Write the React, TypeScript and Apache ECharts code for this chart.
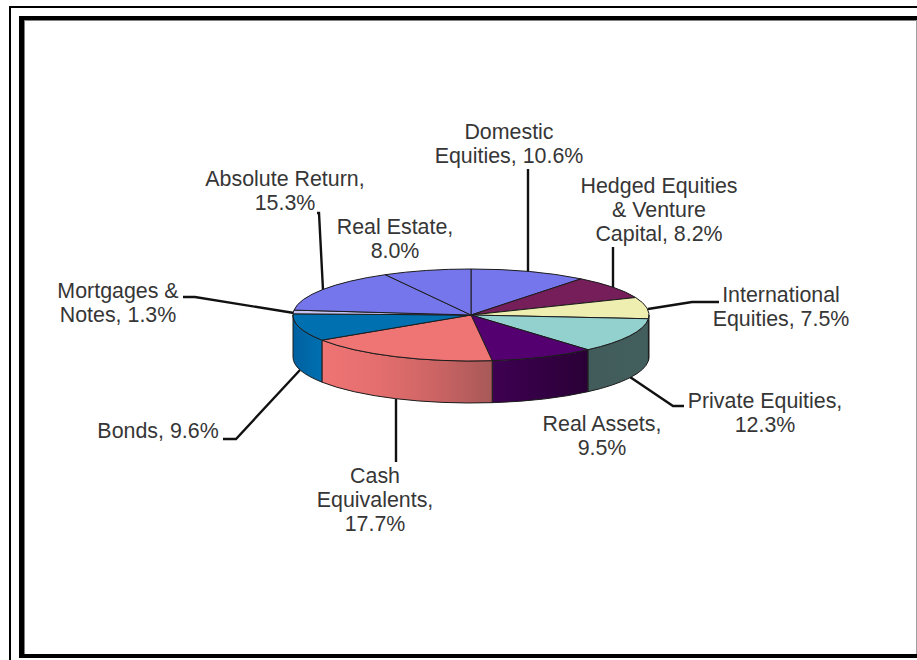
import React, { useEffect, useRef } from "react";
import * as echarts from "echarts";

const categories = ["Domestic Equities", "Hedged Equities & Venture Capital", "International Equities", "Private Equities", "Real Assets", "Cash Equivalents", "Bonds", "Mortgages & Notes", "Absolute Return", "Real Estate"];
const values = [10.6, 8.2, 7.5, 12.3, 9.5, 17.7, 9.6, 1.3, 15.3, 8.0];
const labels = [
  "Domestic\nEquities, 10.6%",
  "Hedged Equities\n& Venture\nCapital, 8.2%",
  "International\nEquities, 7.5%",
  "Private Equities,\n12.3%",
  "Real Assets,\n9.5%",
  "Cash\nEquivalents,\n17.7%",
  "Bonds, 9.6%",
  "Mortgages &\nNotes, 1.3%",
  "Absolute Return,\n15.3%",
  "Real Estate,\n8.0%",
];
const topColors = ["#7676EC", "#751E5A", "#EEEEB0", "#93D1CF", "#550070", "#EF7474", "#0070B0", "#C4C4F4", "#7676EC", "#7676EC"];
const sideStops: string[][] = [
  ["#47478E", "#47478E"], ["#461236", "#461236"], ["#5C5C44", "#5C5C44"], ["#415C5B", "#425E5D"],
  ["#3E0052", "#2A0036"], ["#EF7474", "#E46E6E", "#CC6464", "#A85858"], ["#0060A0", "#0070B0"], ["#5E5E92", "#5E5E92"], ["#47478E", "#47478E"], ["#47478E", "#47478E"],
];
const labelCenters = [[509, 143.5], [659, 209.5], [781, 306.5], [765, 412.5], [602, 435.5], [375, 499.5], [158, 431], [118, 302.5], [285, 190.5], [395, 238.5]];
const leaders: number[][][] = [
  [[528, 272], [528, 169]],
  [[613, 288], [613, 247]],
  [[648, 309], [692, 302], [719, 302]],
  [[630, 377], [673, 406], [684, 406]],
  [],
  [[396, 399], [396, 462]],
  [[300, 370], [236, 439], [223, 439]],
  [[294, 313], [195, 297], [183, 297]],
  [[323, 290], [319, 213], [317, 213]],
  [],
];

const CX = 471, CY = 315, RX = 178, RY = 46, DEPTH = 42;
const total = values.reduce((a, b) => a + b, 0);
const starts: number[] = [];
values.reduce((acc, v, i) => { starts[i] = acc; return acc + v; }, 0);
const deg = (i: number) => (starts[i] / total) * 360;
const deg2 = (i: number) => ((starts[i] + values[i]) / total) * 360;
const pt = (d: number, dy = 0) => {
  const r = (d * Math.PI) / 180;
  return `${(CX + RX * Math.sin(r)).toFixed(2)} ${(CY - RY * Math.cos(r) + dy).toFixed(2)}`;
};

const STROKE = "#1c1c1c";

function renderSide(params: any) {
  const i = params.dataIndex;
  const a = Math.max(deg(i), 90), b = Math.min(deg2(i), 270);
  if (b <= a) return { type: "group", children: [] };
  const stops = sideStops[i];
  const d = `M${pt(a)} A${RX} ${RY} 0 0 1 ${pt(b)} L${pt(b, DEPTH)} A${RX} ${RY} 0 0 0 ${pt(a, DEPTH)} Z`;
  const fill = new echarts.graphic.LinearGradient(0, 0, 1, 0,
    stops.map((c, k) => ({ offset: k / (stops.length - 1), color: c })));
  return { type: "path", shape: { pathData: d }, style: { fill, stroke: STROKE, lineWidth: 1 } };
}

function renderTop(params: any) {
  const i = params.dataIndex;
  const a = deg(i), b = deg2(i);
  const d = `M${CX} ${CY} L${pt(a)} A${RX} ${RY} 0 ${b - a > 180 ? 1 : 0} 1 ${pt(b)} Z`;
  return { type: "path", shape: { pathData: d }, style: { fill: topColors[i], stroke: STROKE, lineWidth: 1 } };
}

function renderLabel(params: any) {
  const i = params.dataIndex;
  const children: any[] = [];
  if (leaders[i].length) {
    children.push({
      type: "polyline",
      shape: { points: leaders[i] },
      style: { fill: "none", stroke: "#111", lineWidth: 2.4 },
    });
  }
  children.push({
    type: "text",
    x: labelCenters[i][0],
    y: labelCenters[i][1],
    style: {
      text: labels[i],
      fill: "#363636",
      font: "21.4px 'Liberation Sans', Arial, sans-serif",
      lineHeight: 24,
      align: "center",
      verticalAlign: "middle",
    },
  });
  return { type: "group", children };
}

const rect = (x: number, y: number, width: number, height: number, fill: string) =>
  ({ type: "rect", shape: { x, y, width, height }, style: { fill }, silent: true });

export default function App() {
  const ref = useRef<HTMLDivElement>(null);
  useEffect(() => {
    const chart = echarts.init(ref.current!, null, { renderer: "svg" });
    const data = categories.map((name, i) => ({ name, value: values[i] }));
    chart.setOption({
      animation: false,
      backgroundColor: "#fff",
      graphic: [
        rect(9, 6, 908, 2, "#000"),
        rect(9, 6, 2, 654, "#000"),
        rect(19, 16, 898, 4, "#000"),
        rect(19, 16, 5, 642, "#000"),
        rect(19, 654, 898, 4, "#000"),
        rect(24, 20, 1, 634, "#808080"),
        rect(24, 20, 893, 1, "#808080"),
        rect(916, 20, 1, 634, "#a0a0a0"),
      ],
      series: [
        { type: "custom", coordinateSystem: "none", silent: true, data, renderItem: renderLabel, z: 3 },
        { type: "custom", coordinateSystem: "none", silent: true, data, renderItem: renderSide, z: 4 },
        { type: "custom", coordinateSystem: "none", silent: true, data, renderItem: renderTop, z: 5 },
      ],
    });
    return () => chart.dispose();
  }, []);
  return <div ref={ref} style={{ position: "absolute", left: 0, top: 0, width: 917, height: 660 }} />;
}
